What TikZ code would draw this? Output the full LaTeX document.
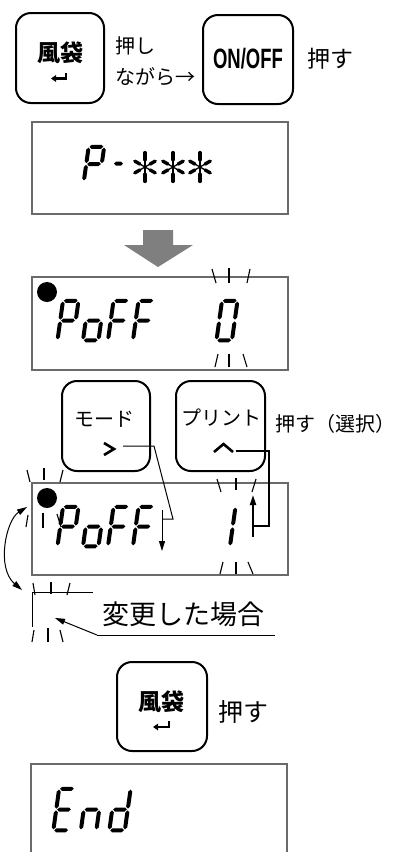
\documentclass[tikz,border=0pt]{standalone}
\usepackage{fontspec}
\newfontfamily\cjk{Noto Sans CJK JP}
\newfontfamily\lsans{Liberation Sans}
\usetikzlibrary{arrows.meta}
\definecolor{dispgray}{HTML}{6A6A6A}
\definecolor{arrowgray}{HTML}{7F7F7F}
% seven segment helpers
\newcommand\SW{15.5}
\newcommand\SH{39.5}
\newcommand\ST{2.0}
\newcommand\SG{0.9}
\newcommand\hsg[3]{\fill ({#1},{#3}) -- ({#1+\ST},{#3-\ST}) -- ({#2-\ST},{#3-\ST}) -- ({#2},{#3}) -- ({#2-\ST},{#3+\ST}) -- ({#1+\ST},{#3+\ST}) -- cycle;}
\newcommand\vsg[3]{\fill ({#1},{#2}) -- ({#1+\ST},{#2+\ST}) -- ({#1+\ST},{#3-\ST}) -- ({#1},{#3}) -- ({#1-\ST},{#3-\ST}) -- ({#1-\ST},{#2+\ST}) -- cycle;}
\def\ssega{\hsg{-\SW/2+\SG}{\SW/2-\SG}{-\SH/2}}
\def\ssegg{\hsg{-\SW/2+\SG}{\SW/2-\SG}{0}}
\def\ssegd{\hsg{-\SW/2+\SG}{\SW/2-\SG}{\SH/2}}
\def\ssegf{\vsg{-\SW/2}{-\SH/2+\SG}{-\SG}}
\def\ssege{\vsg{-\SW/2}{\SG}{\SH/2-\SG}}
\def\ssegb{\vsg{\SW/2}{-\SH/2+\SG}{-\SG}}
\def\ssegc{\vsg{\SW/2}{\SG}{\SH/2-\SG}}
\newcommand\ssd[3]{\begin{scope}[shift={(#1,#2)},xslant=0.14]\foreach \s in {#3}{\csname sseg\s\endcsname}\end{scope}}
% asterisk: six tapered arms
\newcommand\astk[2]{\begin{scope}[shift={(#1,#2)}]
  \foreach \a/\l in {90/16,270/16,30/13,150/13,210/13,330/13}{
    \draw[line width=1.3pt] (0,0) -- (\a:-\l);
    \draw[line width=3.4pt,line cap=round] (\a:-0.45*\l) -- (\a:-0.9*\l);
  }\end{scope}}
\begin{document}
\begin{tikzpicture}[x=1pt,y=-1pt,
  keybox/.style={draw, line width=2pt, rounded corners=15pt, minimum width=88pt, minimum height=90pt, inner sep=0pt},
  disp/.style={draw=dispgray, line width=1.3pt, minimum width=256pt, inner sep=0pt},
  keylab/.style={font=\cjk\bfseries\fontsize{23}{23}\selectfont, inner sep=0pt},
  keylab2/.style={font=\cjk\fontsize{20}{20}\selectfont, inner sep=0pt},
  jtext/.style={font=\cjk\fontsize{#1}{#1}\selectfont, inner sep=0pt, anchor=west},
  conn/.style={line width=1pt},
  conn2/.style={line width=1.7pt},
  tipa/.style={-{Triangle[length=10pt,width=6pt]}},
  blinkv/.style={line width=2.2pt},
  blinks/.style={line width=1.1pt},
  chev/.style={line width=2.6pt},
  ret/.style={line width=2.2pt, -{Triangle[length=5pt,width=6.5pt]}}
]
\useasboundingbox[fill=white] (0,0) rectangle (416,852);

% ---- row 1: keys ----
\node[keybox] (k1) at (60,58) {};
\node[keylab] (k1t) at (60.5,53) {風袋};
\draw[ret] (66,72.5) -- (66,78.5) -- (51,78.5);
\node[jtext=20] (t1) at (115,46) {押し};
\node[jtext=20] (t2) at (115,77) {ながら→};
\node[keybox, minimum width=90pt, minimum height=89pt] (k2) at (248,59.5) {};
\node[font=\lsans\bfseries\fontsize{28}{28}\selectfont, inner sep=0pt, xscale=0.66] (k2t) at (248,59) {ON/OFF};
\node[jtext=23] (t3) at (307,59) {押す};

% ---- display 1 ----
\node[disp, minimum height=92pt] (d1) at (160,168) {};
\begin{scope}
 \renewcommand\SH{34.5}
 \ssd{94}{164}{a,b,f,g,e}
\end{scope}
\hsg{114}{123}{163.5}
\astk{145}{167}
\astk{173}{167}
\astk{200}{167}

% ---- gray arrow ----
\fill[arrowgray] (143,230) -- (173,230) -- (173,245) -- (193,245) -- (158,267) -- (124,245) -- (143,245) -- cycle;

% ---- display 2 ----
\node[disp, minimum height=93pt] (d2) at (160,323.5) {};
\fill (47,292) circle (10);
\ssd{68}{320.5}{a,b,f,g,e}
\ssd{93.5}{320.5}{g,c,d,e}
\ssd{118.5}{320.5}{a,f,g,e}
\ssd{143.5}{320.5}{a,f,g,e}
\ssd{227}{320.5}{a,b,c,d,e,f}
\draw[blinks] (212,269) -- (216,283) (250,269) -- (247,283) (218,354) -- (215,367) (243,354) -- (247,367);
\draw[blinkv] (229,268) -- (229,283) (229,354) -- (229,367);

% ---- mode / print keys ----
\node[keybox] (km) at (106,426) {};
\node[keylab2] (kmt) at (104.5,419) {モード};
\draw[chev] (104,443) -- (114,449) -- (104,455);
\node[keybox, minimum width=89pt] (kp) at (220.5,426) {};
\node[keylab2] (kpt) at (221,418) {プリント};
\draw[chev] (214,452) -- (223.5,444) -- (233,452);
\node[jtext=20] (t4) at (275,424) {押す（選択）};

% ---- display 3 ----
\node[disp, minimum height=92pt] (d3) at (160,529) {};
\fill (47,498) circle (10);
\ssd{68}{526.5}{a,b,f,g,e}
\ssd{93.5}{526.5}{g,c,d,e}
\ssd{118.5}{526.5}{a,f,g,e}
\ssd{143.5}{526.5}{a,f,g,e}
\ssd{225}{526.5}{b,c}
\draw[blinks] (217,479) -- (221,492) (256,479) -- (252,492) (223,562) -- (220,574) (248,562) -- (253,574);
\draw[blinkv] (236,478) -- (236,490) (236,562) -- (236,574);
\draw[blinks] (27,470) -- (30,482) (63,470) -- (60,482) (28,515) -- (26,527) (57,514) -- (61,527);
\draw[blinkv] (44,468) -- (44,480) (43,513) -- (43,528);

% connectors from keys
\coordinate (m0) at (123,446);
\coordinate (m1) at (154,446);
\coordinate (m2) at (173,519);
\coordinate (m3) at (162,519);
\coordinate (m4) at (162,510);
\coordinate (m5) at (162,551);
\draw[conn] (m0) -- (m1) -- (m2) -- (m3);
\draw[conn, tipa] (m4) -- (m5);
\coordinate (p0) at (236,451);
\coordinate (p1) at (269,451);
\coordinate (p2) at (269,526);
\coordinate (p3) at (253,526);
\coordinate (p4) at (253,537);
\coordinate (p5) at (253,495);
\draw[conn2] (p0) -- (p1) -- (p2) -- (p3);
\draw[conn2, tipa] (p4) -- (p5);

% curved double arrow
\coordinate (c0) at (27,507);
\coordinate (c1) at (22,590);
\draw[conn, {Triangle[length=10pt,width=6pt]}-{Triangle[length=10pt,width=6pt]}] (c0) .. controls (6,520) and (-4,568) .. (c1);

% partial display (changed)
\coordinate (b0) at (93,592);
\coordinate (b1) at (32,592);
\coordinate (b2) at (32,627);
\draw[conn] (b0) -- (b1) -- (b2);
\draw[blinks] (33,583) -- (35,595) (70,583) -- (67,595) (34,630) -- (32,642) (60,630) -- (63,642);
\draw[blinkv] (51,582) -- (51,594) (48,628) -- (48,642);
\node[jtext=27] (t5) at (102,614) {変更した場合};
\coordinate (u0) at (275,635);
\coordinate (u1) at (97,635);
\coordinate (u2) at (55,618);
\draw[conn] (u0) -- (u1);
\draw[conn, tipa] (u1) -- (u2);

% ---- key 3 ----
\node[keybox, minimum width=90pt, minimum height=89pt] (k3) at (162,706.5) {};
\node[keylab] (k3t) at (161.5,702) {風袋};
\draw[ret] (169,721) -- (169,727) -- (153,727);
\node[jtext=25] (t6) at (218,712) {押す};

% ---- display 4 ----
\draw[draw=dispgray, line width=1.3pt] (31,853) -- (31,764) -- (287,764) -- (287,853);
\begin{scope}
 \renewcommand\SH{41.5}
 \ssd{64}{809.5}{a,f,g,e,d}
 \ssd{91.5}{809.5}{e,g,c}
 \ssd{120}{809.5}{b,c,d,e,g}
\end{scope}
\end{tikzpicture}
\end{document}
